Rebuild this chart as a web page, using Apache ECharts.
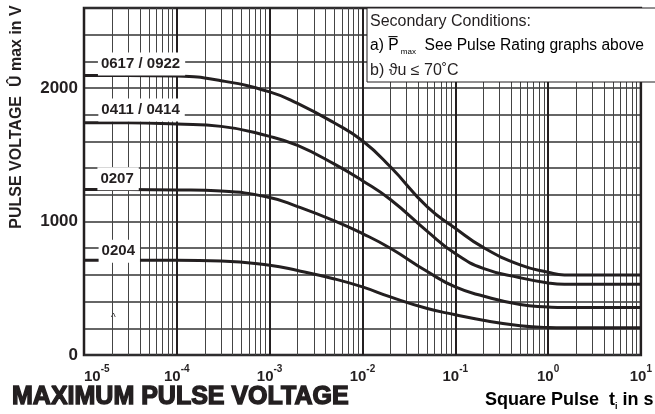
<!DOCTYPE html>
<html>
<head>
<meta charset="utf-8">
<script src="https://cdn.jsdelivr.net/npm/echarts@6/dist/echarts.min.js"></script>
<style>
  html, body { margin: 0; padding: 0; background: #fff; }
  #chart { width: 655px; height: 414px; }
</style>
</head>
<body>
<div id="chart"></div>
<script>
// pulse duration t_i in s (log axis)
const pulseTimes = [1e-5, 3e-5, 1e-4, 3e-4, 1e-3, 2e-3, 5e-3, 1e-2, 2e-2, 5e-2, 1e-1, 2e-1, 5e-1, 1, 1.5, 2, 5, 10];
const seriesNames = ["0617 / 0922", "0411 / 0414", "0207", "0204"];
// max pulse voltage in V
const volts0617 = [2095, 2095, 2090, 2055, 1972, 1885, 1738, 1605, 1410, 1110, 950, 806, 675, 620, 600, 600, 600, 600];
const volts0411 = [1740, 1740, 1730, 1713, 1638, 1570, 1430, 1306, 1165, 926, 760, 649, 579, 540, 530, 530, 530, 530];
const volts0207 = [1240, 1240, 1237, 1228, 1180, 1112, 1005, 910, 800, 625, 510, 442, 378, 360, 355, 355, 355, 355];
const volts0204 = [710, 710, 710, 705, 672, 633, 570, 510, 435, 348, 302, 260, 220, 206, 204, 204, 204, 204];
const yTickLabels = [0, 1000, 2000];

const FONT = '"Liberation Sans", Arial, sans-serif';
const INK = "#231f20";

const chart = echarts.init(document.getElementById("chart"));

// where each curve's name tag sits (t, V)
const nameTagAt = [
  [4.17e-5, 2180],
  [4.17e-5, 1836],
  [2.33e-5, 1320],
  [2.4e-5, 777],
];

// 2..9 gridlines inside each decade
const minorLines = [];
for (let d = -5; d < 1; d++) {
  for (let m = 2; m <= 9; m++) {
    const v = m * Math.pow(10, d);
    minorLines.push({ coords: [[v, 0], [v, 2600]] });
  }
}

const allVolts = [volts0617, volts0411, volts0207, volts0204];

const option = {
  animation: false,
  grid: {
    left: 84,
    right: 1,
    top: 8,
    bottom: 59,
    show: true,
    borderColor: INK,
    borderWidth: 2.5,
  },
  xAxis: {
    type: "log",
    logBase: 10,
    min: 1e-5,
    max: 10,
    splitNumber: 6,
    axisLine: { show: false },
    axisTick: { show: false },
    axisLabel: {
      margin: 9,
      alignMinLabel: "left",
      formatter: (v) => "{b|10}{s|" + Math.round(Math.log10(v)) + "}",
      rich: {
        b: { fontFamily: FONT, fontSize: 15, fontWeight: "bold", color: INK, lineHeight: 20, verticalAlign: "bottom" },
        s: { fontFamily: FONT, fontSize: 10, fontWeight: "bold", color: INK, lineHeight: 12, verticalAlign: "top" },
      },
    },
    splitLine: { show: true, lineStyle: { color: INK, width: 2 } },
  },
  yAxis: {
    type: "value",
    min: 0,
    max: 2600,
    interval: 200,
    axisLine: { show: false },
    axisTick: { show: false },
    axisLabel: {
      margin: 6,
      fontFamily: FONT,
      fontSize: 17,
      fontWeight: "bold",
      color: INK,
      formatter: (v) => (yTickLabels.includes(v) ? String(v) : ""),
    },
    splitLine: { show: true, lineStyle: { color: "#333", width: 1.5 } },
  },
  series: [
    {
      type: "lines",
      coordinateSystem: "cartesian2d",
      z: 1,
      silent: true,
      lineStyle: { color: "#444", width: 1, opacity: 1 },
      data: minorLines,
    },
    ...allVolts.map((volts, i) => ({
      name: seriesNames[i],
      type: "line",
      z: 3,
      smooth: 0.5,
      symbol: "none",
      lineStyle: { color: INK, width: 3 },
      data: pulseTimes.map((t, k) => [t, volts[k]]),
      markPoint: {
        silent: true,
        symbol: "rect",
        symbolSize: 0,
        data: [{ coord: nameTagAt[i] }],
        label: {
          show: true,
          position: "inside",
          formatter: seriesNames[i],
          fontFamily: FONT,
          fontSize: 15,
          fontWeight: "bold",
          color: INK,
          backgroundColor: "#fff",
          padding: [5, 5, 3, 3],
        },
      },
    })),
  ],
  graphic: [
    {
      type: "rect",
      z: 100,
      shape: { x: 367, y: 8, width: 300, height: 74 },
      style: { fill: "#fff", stroke: INK, lineWidth: 1 },
    },
    {
      type: "text",
      z: 101,
      x: 370,
      y: 22,
      style: { text: "Secondary Conditions:", font: "16px " + FONT, fill: INK, verticalAlign: "middle" },
    },
    {
      type: "text",
      z: 101,
      x: 370,
      y: 38,
      style: {
        text: "{t|a) P\u0305}{sub| max}{t|  See Pulse Rating graphs above}",
        rich: {
          t: { fontFamily: FONT, fontSize: 15.6, color: INK, lineHeight: 18, verticalAlign: "top" },
          sub: { fontFamily: FONT, fontSize: 8, color: INK, lineHeight: 12, verticalAlign: "bottom" },
        },
      },
    },
    {
      type: "text",
      z: 101,
      x: 370,
      y: 71,
      style: { text: "b) \u03d1u \u2264 70\u02daC", font: "16px " + FONT, fill: INK, verticalAlign: "middle" },
    },
    {
      type: "text",
      x: 17,
      y: 117,
      rotation: Math.PI / 2,
      style: {
        text: "PULSE VOLTAGE  \u00db max in V",
        font: "bold 16px " + FONT,
        fill: INK,
        align: "center",
        verticalAlign: "middle",
      },
    },
    {
      type: "text",
      x: 111,
      y: 318,
      style: { text: "^", font: "10px " + FONT, fill: INK, verticalAlign: "middle" },
    },
    {
      type: "text",
      x: 12,
      y: 397,
      style: {
        text: "MAXIMUM PULSE VOLTAGE",
        font: "bold 25px " + FONT,
        fill: INK,
        stroke: INK,
        lineWidth: 1.4,
        verticalAlign: "middle",
      },
    },
    {
      type: "text",
      x: 485,
      y: 391,
      style: {
        text: "{t|Square Pulse  t}{i|i}{t| in s}",
        rich: {
          t: { fontFamily: FONT, fontSize: 18, fontWeight: "bold", color: INK, lineHeight: 20, verticalAlign: "top" },
          i: { fontFamily: FONT, fontSize: 9, fontWeight: "bold", color: INK, lineHeight: 10, verticalAlign: "bottom" },
        },
      },
    },
  ],
};

chart.setOption(option);
</script>
</body>
</html>
